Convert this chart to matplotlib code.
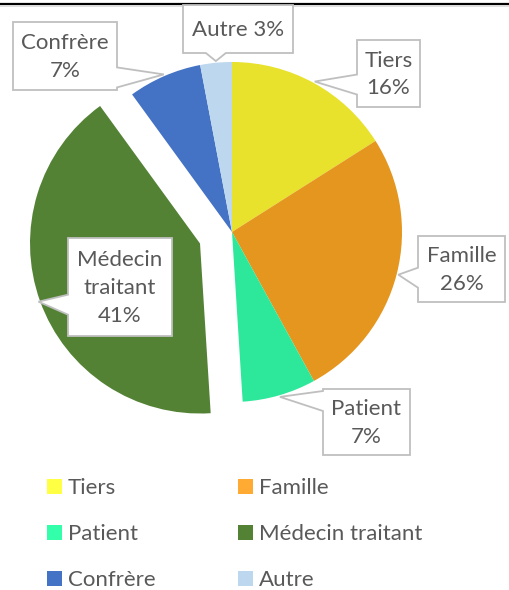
import matplotlib
matplotlib.use("Agg")
import matplotlib.pyplot as plt
from matplotlib.patches import Polygon, Patch
import numpy as np

# data
labels = ["Tiers", "Famille", "Patient", "Médecin traitant", "Confrère", "Autre"]
values = [16, 26, 7, 41, 7, 3]
slice_colors = ["#E8E22C", "#E5961F", "#2DE89A", "#548235", "#4472C4", "#BDD7EE"]
legend_colors = ["#FFFF44", "#FFAA33", "#33FFAA", "#548235", "#4472C4", "#BDD7EE"]
callout_texts = ["Tiers\n16%", "Famille\n26%", "Patient\n7%",
                 "Médecin\ntraitant\n41%", "Confrère\n7%", "Autre 3%"]

# layout (pixel coordinates, y going down)
center = (232, 232)
radius = 170
explode = [0, 0, 0, 34, 0, 0]
# x0, y0, x1, y1 of each callout box, and the side the pointer leaves from
boxes = [(357, 40, 420, 107), (418, 236, 505, 302), (323, 389, 410, 455),
         (68, 238, 172, 336), (13, 22, 117, 90), (183, 5, 293, 53)]
sides = ["left", "left", "left", "left", "right", "bottom"]

text_color = "#595959"
edge_gray = "#BFBFBF"
plt.rcParams["font.family"] = ["Lato", "DejaVu Sans"]

fig = plt.figure(figsize=(5.1, 5.9), dpi=100)
ax = fig.add_axes([0, 0, 1, 1])

wedges, _ = ax.pie(values, colors=slice_colors, radius=radius, center=center,
                   explode=explode, startangle=-90, counterclock=True,
                   wedgeprops=dict(linewidth=0))
ax.set_xlim(0, 510)
ax.set_ylim(590, 0)
ax.set_aspect("equal")
ax.axis("off")


def callout(w, box, side, text):
    th = np.deg2rad((w.theta1 + w.theta2) / 2)
    tx = w.center[0] + w.r * 1.01 * np.cos(th)
    ty = w.center[1] + w.r * 1.01 * np.sin(th)
    x0, y0, x1, y1 = box
    if side in ("left", "right"):
        c = min(max(ty + 3, y0 + 12), y1 - 12)
        b1, b2 = c - 10, c + 10
        if side == "left":
            pts = [(x0, y0), (x1, y0), (x1, y1), (x0, y1), (x0, b2), (tx, ty), (x0, b1)]
        else:
            pts = [(x0, y0), (x1, y0), (x1, b1), (tx, ty), (x1, b2), (x1, y1), (x0, y1)]
    else:
        c = min(max(tx, x0 + 12), x1 - 12)
        b1, b2 = c - 10, c + 10
        pts = [(x0, y0), (x1, y0), (x1, y1), (b2, y1), (tx, ty), (b1, y1), (x0, y1)]
    ax.add_patch(Polygon(pts, closed=True, facecolor="white", edgecolor=edge_gray,
                         linewidth=1.3, zorder=5))
    ax.text((x0 + x1) / 2, (y0 + y1) / 2 + 1, text, ha="center", va="center",
            fontsize=16, color=text_color, linespacing=1.48, zorder=6)


for w, box, side, txt in zip(wedges, boxes, sides, callout_texts):
    callout(w, box, side, txt)

# top rule
ax.plot([0, 510], [3.5, 3.5], color="black", lw=1.6, solid_capstyle="butt")
ax.plot([0, 510], [5.5, 5.5], color="#D9D9D9", lw=1.2, solid_capstyle="butt")

# legend is filled row by row in the reference
order = [0, 2, 4, 1, 3, 5]
handles = [Patch(facecolor=legend_colors[i], edgecolor="none") for i in order]
ax.legend(handles, [labels[i] for i in order], ncol=2, loc="upper left",
          bbox_to_anchor=(47, 478), bbox_transform=ax.transData, frameon=False,
          borderpad=0, borderaxespad=0, fontsize=16, labelcolor=text_color,
          handlelength=0.68, handleheight=0.68, handletextpad=0.26,
          columnspacing=3.7, labelspacing=1.17)

fig.savefig("out.png", dpi=100)
